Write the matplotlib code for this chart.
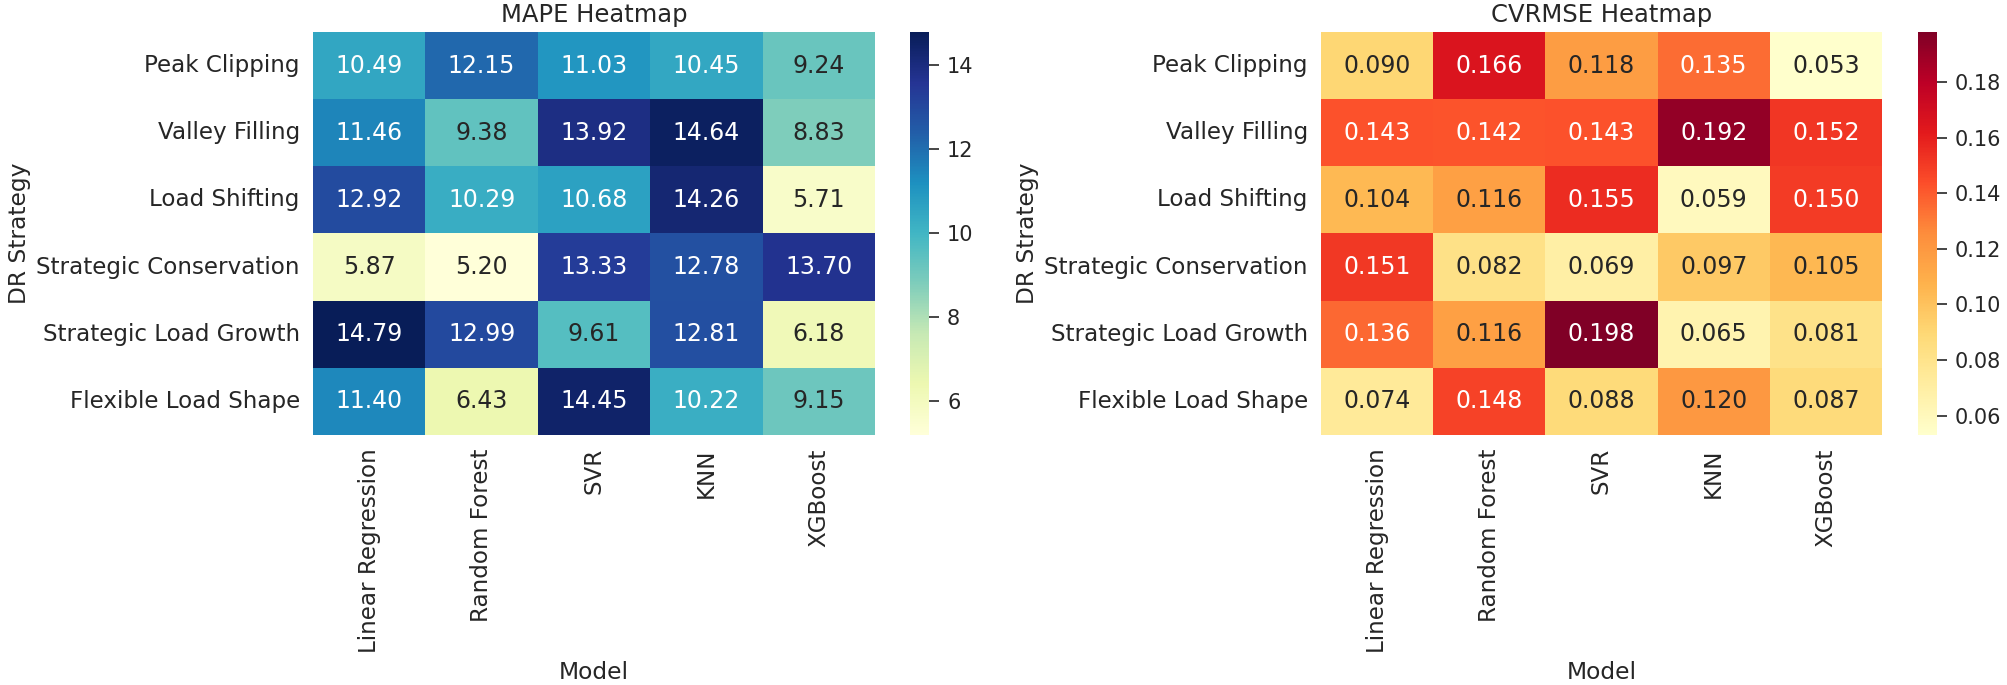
import numpy as np
import pandas as pd
import matplotlib
matplotlib.use("Agg")
import matplotlib.pyplot as plt
import seaborn as sns

strategies = ["Peak Clipping", "Valley Filling", "Load Shifting",
              "Strategic Conservation", "Strategic Load Growth", "Flexible Load Shape"]
models = ["Linear Regression", "Random Forest", "SVR", "KNN", "XGBoost"]

mape = [
    [10.49, 12.15, 11.03, 10.45, 9.24],
    [11.46, 9.38, 13.92, 14.64, 8.83],
    [12.92, 10.29, 10.68, 14.26, 5.71],
    [5.87, 5.20, 13.33, 12.78, 13.70],
    [14.79, 12.99, 9.61, 12.81, 6.18],
    [11.40, 6.43, 14.45, 10.22, 9.15],
]
cvrmse = [
    [0.090, 0.166, 0.118, 0.135, 0.053],
    [0.143, 0.142, 0.143, 0.192, 0.152],
    [0.104, 0.116, 0.155, 0.059, 0.150],
    [0.151, 0.082, 0.069, 0.097, 0.105],
    [0.136, 0.116, 0.198, 0.065, 0.081],
    [0.074, 0.148, 0.088, 0.120, 0.087],
]

mape_df = pd.DataFrame(mape, index=strategies, columns=models)
cvrmse_df = pd.DataFrame(cvrmse, index=strategies, columns=models)

sns.set_theme()
plt.rcParams['font.family'] = ['DejaVu Sans']

W, H = 2008, 685
fig = plt.figure(figsize=(W / 100, H / 100), dpi=100)

def box(x0, y0, x1, y1):
    return [x0 / W, 1 - y1 / H, (x1 - x0) / W, (y1 - y0) / H]

ax1 = fig.add_axes(box(313, 32, 875, 435))
cax1 = fig.add_axes(box(910, 32, 929, 435))
ax2 = fig.add_axes(box(1321, 32, 1882, 435))
cax2 = fig.add_axes(box(1918, 32, 1937, 435))

panels = [
    (ax1, cax1, mape_df, "YlGnBu", ".2f", "MAPE Heatmap"),
    (ax2, cax2, cvrmse_df, "YlOrRd", ".3f", "CVRMSE Heatmap"),
]
for ax, cax, df, cmap, fmt, title in panels:
    sns.heatmap(df, annot=True, fmt=fmt, cmap=cmap, ax=ax, cbar_ax=cax,
                annot_kws={"fontsize": 17})
    ax.set_title(title, fontsize=17.5, pad=7)
    ax.set_xlabel("Model", fontsize=16.8, labelpad=6)
    ax.set_ylabel("DR Strategy", fontsize=16.8)
    ax.tick_params(axis='both', labelsize=16.6)
    ax.set_xticklabels(ax.get_xticklabels(), rotation=90)
    ax.set_yticklabels(ax.get_yticklabels(), rotation=0)
    cax.tick_params(labelsize=15, length=7, width=1.2, pad=6)

fig.savefig("out.png", dpi=100)
